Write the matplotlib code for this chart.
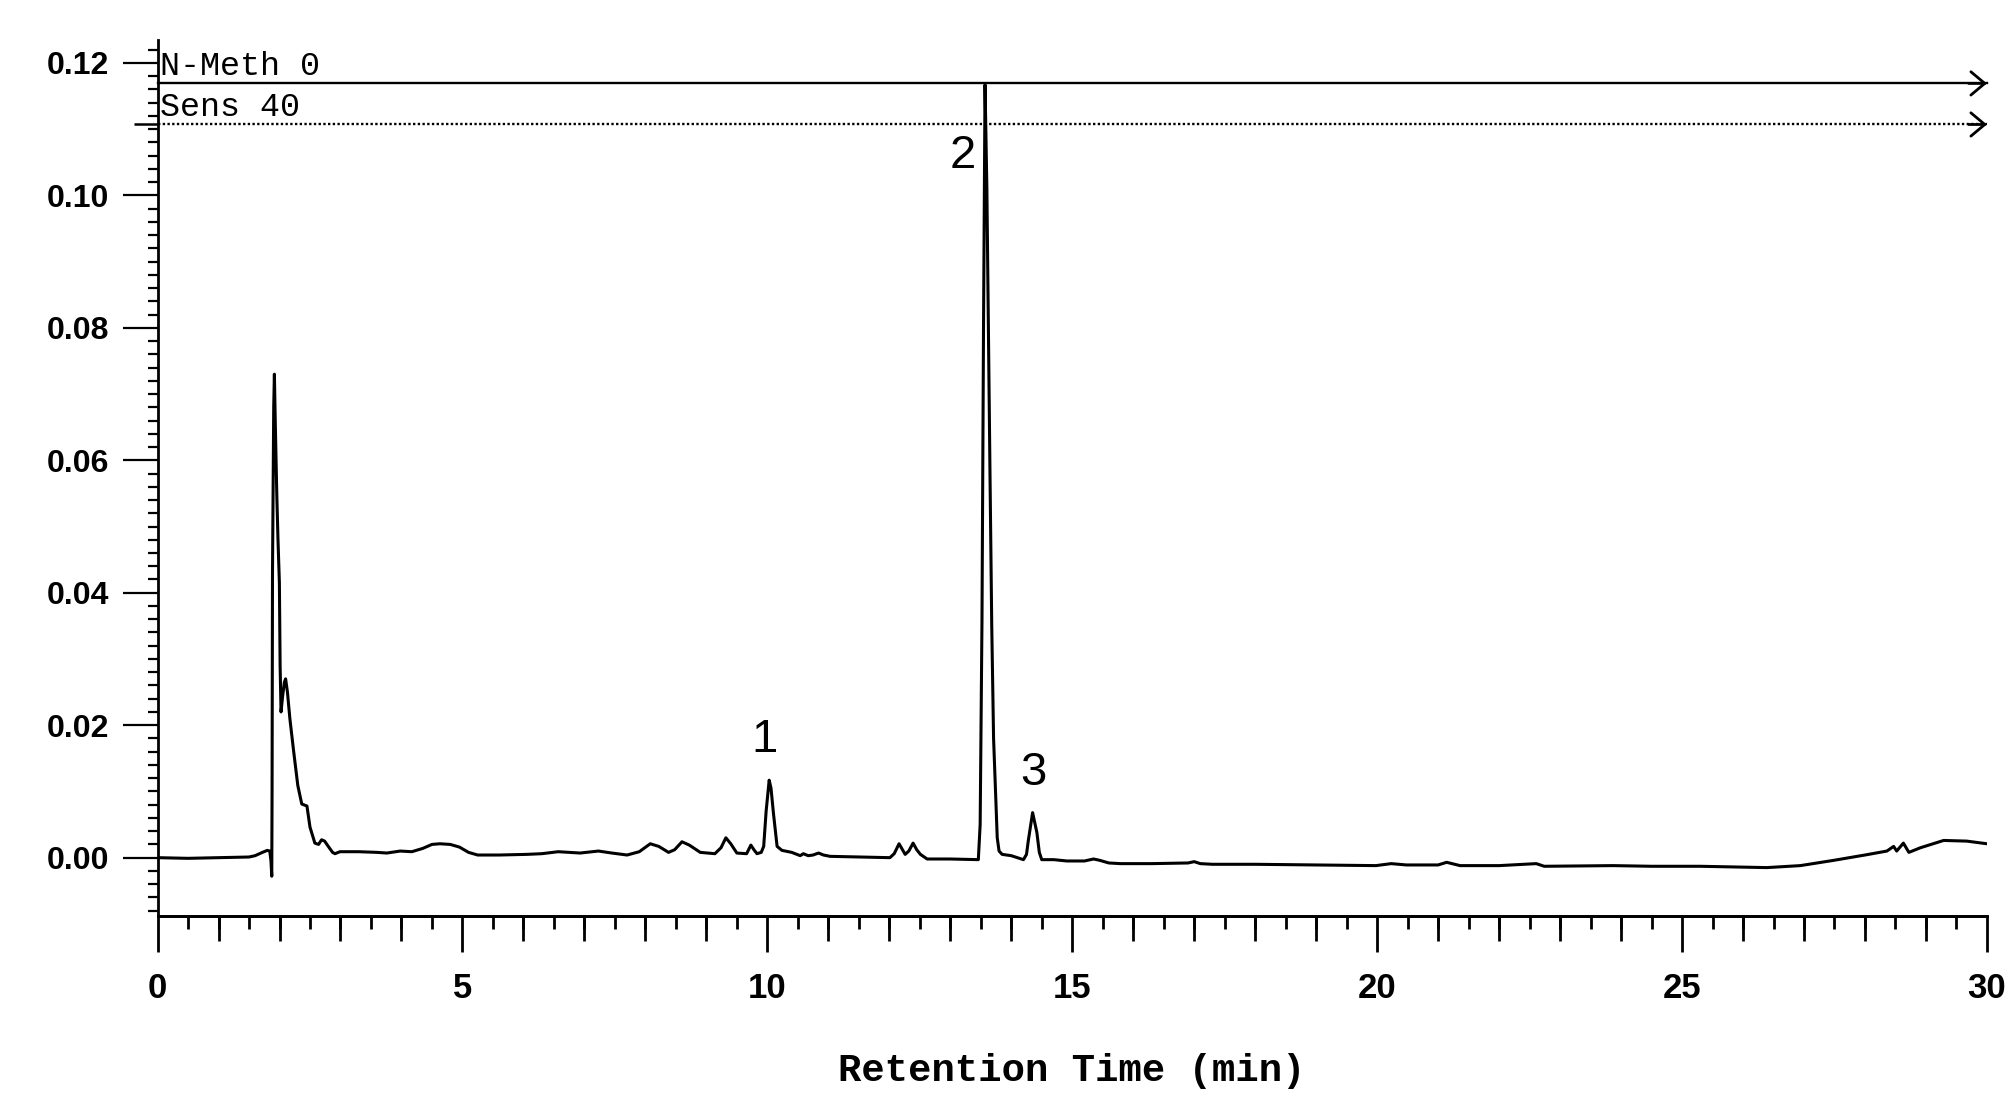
import numpy as np
import matplotlib
matplotlib.use("Agg")
import matplotlib.pyplot as plt
from matplotlib.ticker import MultipleLocator, FixedLocator, FormatStrFormatter

# chromatogram trace (min, AU)
tiempo = [0.0, 0.5, 1.0, 1.5, 1.6, 1.72, 1.80, 1.84, 1.86, 1.873, 1.878, 1.885,
          1.905, 1.916, 1.93, 1.955, 1.975, 1.998, 2.01, 2.025, 2.05, 2.08, 2.10,
          2.13, 2.17, 2.23, 2.30, 2.365, 2.42, 2.45, 2.50, 2.58, 2.64, 2.69, 2.74,
          2.80, 2.87, 2.91, 2.99, 3.3, 3.6, 3.76, 3.98, 4.17, 4.35, 4.5, 4.63, 4.8,
          4.95, 5.1, 5.25, 5.6, 6.06, 6.3, 6.57, 6.93, 7.23, 7.45, 7.70, 7.9, 8.08,
          8.22, 8.38, 8.48, 8.60, 8.72, 8.90, 9.14, 9.24, 9.32, 9.40, 9.50, 9.66,
          9.73, 9.78, 9.83, 9.90, 9.94, 9.98, 10.03, 10.06, 10.10, 10.16, 10.24,
          10.40, 10.54, 10.59, 10.67, 10.75, 10.84, 10.92, 11.03, 11.5, 12.01,
          12.08, 12.16, 12.26, 12.32, 12.39, 12.45, 12.51, 12.62, 13.0, 13.46,
          13.49, 13.52, 13.545, 13.57, 13.60, 13.63, 13.65, 13.68, 13.71, 13.74,
          13.77, 13.80, 13.85, 14.0, 14.20, 14.25, 14.28, 14.35, 14.42, 14.46,
          14.50, 14.7, 14.91, 15.2, 15.35, 15.45, 15.6, 15.79, 16.3, 16.90, 17.0,
          17.1, 17.3, 18.0, 19.0, 19.98, 20.23, 20.48, 21.0, 21.14, 21.36, 22.0,
          22.61, 22.74, 23.87, 24.5, 25.3, 26.39, 26.94, 27.49, 28.03, 28.36,
          28.47, 28.52, 28.63, 28.72, 28.91, 29.29, 29.67, 30.0]
senal = [0.0, -0.0001, 0.0, 0.0001, 0.0003, 0.0008, 0.0011, 0.0010, -0.0005,
         -0.0028, 0.010, 0.043, 0.068, 0.073, 0.066, 0.055, 0.048, 0.0415, 0.029,
         0.022, 0.0243, 0.0265, 0.027, 0.025, 0.021, 0.0162, 0.0109, 0.0081,
         0.0079, 0.0078, 0.0046, 0.0022, 0.0020, 0.0027, 0.0025, 0.0017, 0.0008,
         0.0006, 0.0009, 0.0009, 0.0008, 0.0007, 0.0010, 0.0009, 0.0014, 0.0020,
         0.0021, 0.0020, 0.0016, 0.0008, 0.0004, 0.0004, 0.0005, 0.0006, 0.0009,
         0.0007, 0.0010, 0.0007, 0.0004, 0.0009, 0.0021, 0.0017, 0.0008, 0.0012,
         0.0024, 0.0019, 0.0008, 0.0006, 0.0015, 0.0030, 0.0021, 0.0007, 0.0006,
         0.0019, 0.0012, 0.0006, 0.0008, 0.0017, 0.0070, 0.0117, 0.0105, 0.0067,
         0.0017, 0.0011, 0.0008, 0.0003, 0.0006, 0.0003, 0.0004, 0.0007, 0.0004,
         0.0002, 0.0001, 0.0, 0.0006, 0.0021, 0.0005, 0.0010, 0.0022, 0.0012,
         0.0005, -0.0002, -0.0002, -0.0003, 0.005, 0.036, 0.080, 0.1167, 0.101,
         0.075, 0.059, 0.035, 0.018, 0.0106, 0.003, 0.0010, 0.0005, 0.0003,
         -0.0003, 0.0005, 0.0026, 0.0068, 0.0038, 0.0008, -0.0003, -0.0003,
         -0.0005, -0.0005, -0.0002, -0.0004, -0.0008, -0.0009, -0.0009, -0.0008,
         -0.0006, -0.0009, -0.0010, -0.0010, -0.0011, -0.0012, -0.0009, -0.0011,
         -0.0011, -0.0007, -0.0012, -0.0012, -0.0009, -0.0013, -0.0012, -0.0013,
         -0.0013, -0.0015, -0.0012, -0.0004, 0.00045, 0.0010, 0.0017, 0.0010,
         0.0022, 0.0008, 0.0015, 0.0026, 0.0025, 0.0021]

# numbered peaks
picos = ["1", "2", "3"]
picos_t = [9.95, 13.2, 14.36]
picos_y = [0.0177, 0.106, 0.0128]

# event lines at the top
eventos = ["N-Meth 0", "Sens 40"]
eventos_y = [0.1169, 0.1107]
eventos_estilo = ["-", (0, (1, 1))]

fig = plt.figure(figsize=(20.07, 11.12), dpi=100)
ax = fig.add_axes([0.0785, 0.1763, 0.9115, 0.788])

ax.plot(tiempo, senal, color="black", lw=2.2)

for nombre, y, ls in zip(eventos, eventos_y, eventos_estilo):
    ax.plot([0, 30], [y, y], color="black", lw=1.7, ls=ls, clip_on=False)
    ax.annotate("", xy=(30, y), xytext=(29.7, y),
                arrowprops=dict(arrowstyle="->,head_length=0.5,head_width=0.42",
                                mutation_scale=20, lw=2, color="black",
                                shrinkA=0, shrinkB=0),
                annotation_clip=False)
    ax.annotate(nombre, xy=(0, y), xytext=(2, 6), textcoords="offset points",
                family="Liberation Mono", fontsize=24, va="baseline", ha="left")
# marca del evento Sens en el eje
ax.plot(0, eventos_y[1], marker=0, markersize=17, mew=1.8, color="black", clip_on=False)

for txt, t, y in zip(picos, picos_t, picos_y):
    ax.text(t, y, txt, fontsize=34, family="Liberation Sans", ha="center", va="center")

ax.set_xlim(0, 30)
ax.set_ylim(-0.0088, 0.1235)

for s in ["top", "right"]:
    ax.spines[s].set_visible(False)
ax.spines["left"].set_linewidth(2)
ax.spines["bottom"].set_linewidth(2)

# eje x: mayores cada 5, medios cada 1, menores cada 0.5
ax.xaxis.set_major_locator(MultipleLocator(5))
ax.xaxis.set_minor_locator(MultipleLocator(0.5))
ax.tick_params(axis="x", which="major", length=26, width=2, pad=14, labelsize=25)
ax.tick_params(axis="x", which="minor", length=9, width=2)
for lab in ax.get_xticklabels():
    lab.set_fontweight("bold")
    lab.set_family("Liberation Sans")

sec = ax.secondary_xaxis("bottom")
sec.xaxis.set_major_locator(FixedLocator([i for i in range(31) if i % 5 != 0]))
sec.tick_params(axis="x", length=18, width=2, labelbottom=False)
sec.spines["bottom"].set_linewidth(2)

ax.yaxis.set_major_locator(FixedLocator([0.0, 0.02, 0.04, 0.06, 0.08, 0.10, 0.12]))
ax.yaxis.set_minor_locator(MultipleLocator(0.002))
ax.yaxis.set_major_formatter(FormatStrFormatter("%.2f"))
ax.tick_params(axis="y", which="major", length=25, width=1.6, pad=10, labelsize=23)
ax.tick_params(axis="y", which="minor", length=7, width=1.6)
for lab in ax.get_yticklabels():
    lab.set_fontweight("bold")
    lab.set_family("Liberation Sans")

ax.set_xlabel("Retention Time (min)", family="Liberation Mono", fontweight="bold",
              fontsize=28)
ax.xaxis.set_label_coords(0.5, -0.156)

fig.savefig("out.png", dpi=100)
